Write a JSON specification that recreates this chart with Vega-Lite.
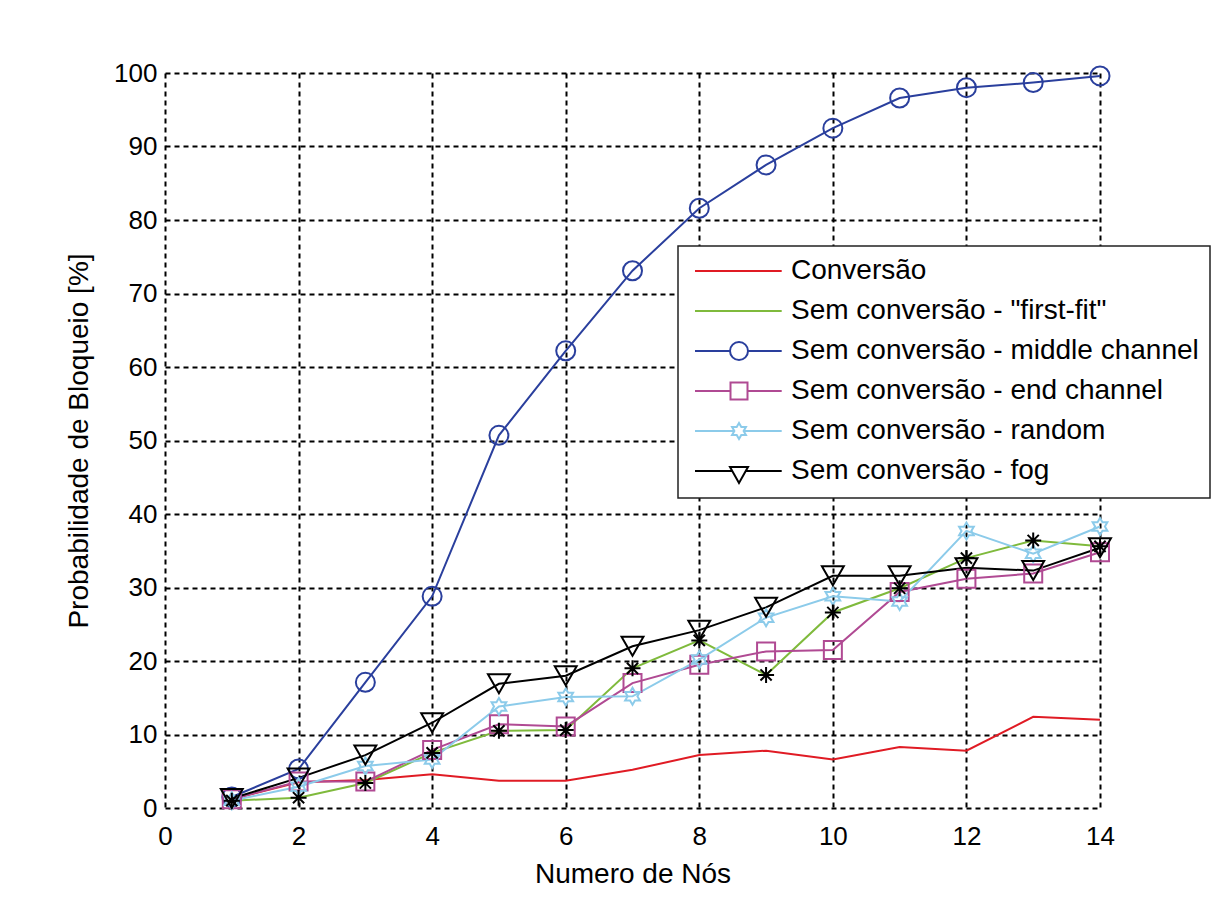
{
  "$schema": "https://vega.github.io/schema/vega-lite/v6.json",
  "width": 935,
  "height": 735,
  "autosize": {"type": "none"},
  "padding": {"left": 165, "top": 73, "right": 118, "bottom": 96},
  "background": "white",
  "config": {"view": {"stroke": null}, "font": "Liberation Sans"},
  "data": {
    "values": [
      {"x": 1, "series": "Conversão", "y": 1.2},
      {"x": 2, "series": "Conversão", "y": 3.5},
      {"x": 3, "series": "Conversão", "y": 3.8},
      {"x": 4, "series": "Conversão", "y": 4.6},
      {"x": 5, "series": "Conversão", "y": 3.7},
      {"x": 6, "series": "Conversão", "y": 3.7},
      {"x": 7, "series": "Conversão", "y": 5.2},
      {"x": 8, "series": "Conversão", "y": 7.2},
      {"x": 9, "series": "Conversão", "y": 7.8},
      {"x": 10, "series": "Conversão", "y": 6.6},
      {"x": 11, "series": "Conversão", "y": 8.3},
      {"x": 12, "series": "Conversão", "y": 7.8},
      {"x": 13, "series": "Conversão", "y": 12.4},
      {"x": 14, "series": "Conversão", "y": 12.0},
      {"x": 1, "series": "Sem conversão - \"first-fit\"", "y": 1.0},
      {"x": 2, "series": "Sem conversão - \"first-fit\"", "y": 1.4},
      {"x": 3, "series": "Sem conversão - \"first-fit\"", "y": 3.4},
      {"x": 4, "series": "Sem conversão - \"first-fit\"", "y": 7.5},
      {"x": 5, "series": "Sem conversão - \"first-fit\"", "y": 10.5},
      {"x": 6, "series": "Sem conversão - \"first-fit\"", "y": 10.6},
      {"x": 7, "series": "Sem conversão - \"first-fit\"", "y": 19.0},
      {"x": 8, "series": "Sem conversão - \"first-fit\"", "y": 22.8},
      {"x": 9, "series": "Sem conversão - \"first-fit\"", "y": 18.1},
      {"x": 10, "series": "Sem conversão - \"first-fit\"", "y": 26.6},
      {"x": 11, "series": "Sem conversão - \"first-fit\"", "y": 29.9},
      {"x": 12, "series": "Sem conversão - \"first-fit\"", "y": 34.0},
      {"x": 13, "series": "Sem conversão - \"first-fit\"", "y": 36.4},
      {"x": 14, "series": "Sem conversão - \"first-fit\"", "y": 35.6},
      {"x": 1, "series": "Sem conversão - middle channel", "y": 1.5},
      {"x": 2, "series": "Sem conversão - middle channel", "y": 5.3},
      {"x": 3, "series": "Sem conversão - middle channel", "y": 17.1},
      {"x": 4, "series": "Sem conversão - middle channel", "y": 28.8},
      {"x": 5, "series": "Sem conversão - middle channel", "y": 50.7},
      {"x": 6, "series": "Sem conversão - middle channel", "y": 62.2},
      {"x": 7, "series": "Sem conversão - middle channel", "y": 73.1},
      {"x": 8, "series": "Sem conversão - middle channel", "y": 81.6},
      {"x": 9, "series": "Sem conversão - middle channel", "y": 87.5},
      {"x": 10, "series": "Sem conversão - middle channel", "y": 92.5},
      {"x": 11, "series": "Sem conversão - middle channel", "y": 96.6},
      {"x": 12, "series": "Sem conversão - middle channel", "y": 98.0},
      {"x": 13, "series": "Sem conversão - middle channel", "y": 98.7},
      {"x": 14, "series": "Sem conversão - middle channel", "y": 99.6},
      {"x": 1, "series": "Sem conversão - end channel", "y": 1.2},
      {"x": 2, "series": "Sem conversão - end channel", "y": 3.6},
      {"x": 3, "series": "Sem conversão - end channel", "y": 3.6},
      {"x": 4, "series": "Sem conversão - end channel", "y": 7.9},
      {"x": 5, "series": "Sem conversão - end channel", "y": 11.4},
      {"x": 6, "series": "Sem conversão - end channel", "y": 11.1},
      {"x": 7, "series": "Sem conversão - end channel", "y": 17.0},
      {"x": 8, "series": "Sem conversão - end channel", "y": 19.5},
      {"x": 9, "series": "Sem conversão - end channel", "y": 21.3},
      {"x": 10, "series": "Sem conversão - end channel", "y": 21.5},
      {"x": 11, "series": "Sem conversão - end channel", "y": 29.4},
      {"x": 12, "series": "Sem conversão - end channel", "y": 31.2},
      {"x": 13, "series": "Sem conversão - end channel", "y": 31.9},
      {"x": 14, "series": "Sem conversão - end channel", "y": 34.8},
      {"x": 1, "series": "Sem conversão - random", "y": 1.0},
      {"x": 2, "series": "Sem conversão - random", "y": 2.9},
      {"x": 3, "series": "Sem conversão - random", "y": 5.7},
      {"x": 4, "series": "Sem conversão - random", "y": 6.6},
      {"x": 5, "series": "Sem conversão - random", "y": 13.8},
      {"x": 6, "series": "Sem conversão - random", "y": 15.1},
      {"x": 7, "series": "Sem conversão - random", "y": 15.2},
      {"x": 8, "series": "Sem conversão - random", "y": 20.2},
      {"x": 9, "series": "Sem conversão - random", "y": 25.9},
      {"x": 10, "series": "Sem conversão - random", "y": 28.8},
      {"x": 11, "series": "Sem conversão - random", "y": 28.1},
      {"x": 12, "series": "Sem conversão - random", "y": 37.7},
      {"x": 13, "series": "Sem conversão - random", "y": 34.6},
      {"x": 14, "series": "Sem conversão - random", "y": 38.3},
      {"x": 1, "series": "Sem conversão - fog", "y": 1.3},
      {"x": 2, "series": "Sem conversão - fog", "y": 4.1},
      {"x": 3, "series": "Sem conversão - fog", "y": 7.2},
      {"x": 4, "series": "Sem conversão - fog", "y": 11.6},
      {"x": 5, "series": "Sem conversão - fog", "y": 16.9},
      {"x": 6, "series": "Sem conversão - fog", "y": 18.0},
      {"x": 7, "series": "Sem conversão - fog", "y": 22.0},
      {"x": 8, "series": "Sem conversão - fog", "y": 24.2},
      {"x": 9, "series": "Sem conversão - fog", "y": 27.3},
      {"x": 10, "series": "Sem conversão - fog", "y": 31.6},
      {"x": 11, "series": "Sem conversão - fog", "y": 31.6},
      {"x": 12, "series": "Sem conversão - fog", "y": 32.7},
      {"x": 13, "series": "Sem conversão - fog", "y": 32.3},
      {"x": 14, "series": "Sem conversão - fog", "y": 35.4}
    ]
  },
  "encoding": {
    "x": {
      "field": "x", "type": "quantitative",
      "scale": {"domain": [0, 14], "nice": false},
      "axis": {
        "values": [0, 2, 4, 6, 8, 10, 12, 14],
        "title": "Numero de Nós",
        "grid": true, "gridColor": "black", "gridDash": [5, 4], "gridWidth": 2, "gridOpacity": 1,
        "domain": false, "ticks": false, "tickSize": 0,
        "labelFlush": false, "labelOverlap": false,
        "labelFont": "Liberation Sans", "labelFontSize": 26, "labelColor": "black", "labelPadding": 15,
        "titleFont": "Liberation Sans", "titleFontSize": 28, "titleFontWeight": "normal", "titleColor": "black", "titlePadding": 11
      }
    },
    "y": {
      "field": "y", "type": "quantitative",
      "scale": {"domain": [0, 100], "nice": false},
      "axis": {
        "values": [0, 10, 20, 30, 40, 50, 60, 70, 80, 90, 100],
        "title": "Probabilidade de Bloqueio [%]",
        "grid": true, "gridColor": "black", "gridDash": [5, 4], "gridWidth": 2, "gridOpacity": 1,
        "domain": false, "ticks": false, "tickSize": 0,
        "labelFlush": false, "labelOverlap": false,
        "labelFont": "Liberation Sans", "labelFontSize": 26, "labelColor": "black", "labelPadding": 8,
        "titleFont": "Liberation Sans", "titleFontSize": 28, "titleFontWeight": "normal", "titleColor": "black", "titlePadding": 20
      }
    },
    "color": {
      "field": "series", "type": "nominal",
      "scale": {
        "domain": ["Conversão", "Sem conversão - \"first-fit\"", "Sem conversão - middle channel", "Sem conversão - end channel", "Sem conversão - random", "Sem conversão - fog"],
        "range": ["#e01b24", "#7fba3c", "#2a3f9d", "#b04a93", "#8ccbea", "#000000"]
      },
      "legend": {
        "title": null, "orient": "none", "legendX": 513, "legendY": 173,
        "padding": 11, "fillColor": "white", "strokeColor": "#222222",
        "labelFont": "Liberation Sans", "labelFontSize": 28, "labelColor": "black", "labelOffset": 74, "labelLimit": 0,
        "symbolSize": 400, "symbolStrokeWidth": 2, "rowPadding": 12,
        "encode": {
          "legend": {"update": {"strokeWidth": {"value": 1.5}}},
          "symbols": {
            "update": {
              "shape": {"signal": "['M-0.8,0H7.87','M-0.8,0H7.87','M-0.8,0H2.7M4.5,0H7.87M2.7,0A0.9,0.9,0,1,1,4.5,0A0.9,0.9,0,1,1,2.7,0','M-0.8,0H2.75M4.45,0H7.87M2.75,-0.85H4.45V0.85H2.75Z','M-0.8,0H3.138M4.062,0H7.87M3.6,-0.8L3.831,-0.4L4.293,-0.4L4.062,0L4.293,0.4L3.831,0.4L3.6,0.8L3.369,0.4L2.907,0.4L3.138,0L2.907,-0.4L3.369,-0.4Z','M-0.8,0H2.925M4.275,0H7.87M2.7,-0.4H4.5L3.6,1.2Z'][datum.index]"},
              "fill": {"value": "transparent"},
              "strokeWidth": {"value": 2},
              "opacity": {"value": 1}
            }
          }
        }
      }
    }
  },
  "layer": [
    {"mark": {"type": "line", "strokeWidth": 2}},
    {
      "transform": [{"filter": "datum.series === 'Sem conversão - middle channel'"}],
      "mark": {"type": "point", "shape": "circle", "filled": false, "size": 361, "strokeWidth": 2, "opacity": 1}
    },
    {
      "transform": [{"filter": "datum.series === 'Sem conversão - end channel'"}],
      "mark": {"type": "point", "shape": "square", "filled": false, "size": 324, "strokeWidth": 2, "opacity": 1}
    },
    {
      "transform": [{"filter": "datum.series === 'Sem conversão - random'"}],
      "mark": {"type": "point", "shape": "M0,-1L0.289,-0.5L0.866,-0.5L0.577,0L0.866,0.5L0.289,0.5L0,1L-0.289,0.5L-0.866,0.5L-0.577,0L-0.866,-0.5L-0.289,-0.5Z", "filled": false, "size": 289, "strokeWidth": 2, "opacity": 1}
    },
    {
      "transform": [{"filter": "datum.series === 'Sem conversão - fog'"}],
      "mark": {"type": "point", "shape": "triangle-down", "filled": false, "size": 480, "strokeWidth": 2, "opacity": 1}
    },
    {
      "transform": [{"filter": "indexof(datum.series, 'first-fit') >= 0"}],
      "mark": {"type": "point", "shape": "M-1,0H1M0,-1V1M-0.7,-0.7L0.7,0.7M-0.7,0.7L0.7,-0.7", "filled": false, "size": 256, "strokeWidth": 2, "opacity": 1},
      "encoding": {"color": {"value": "black"}}
    }
  ]
}
